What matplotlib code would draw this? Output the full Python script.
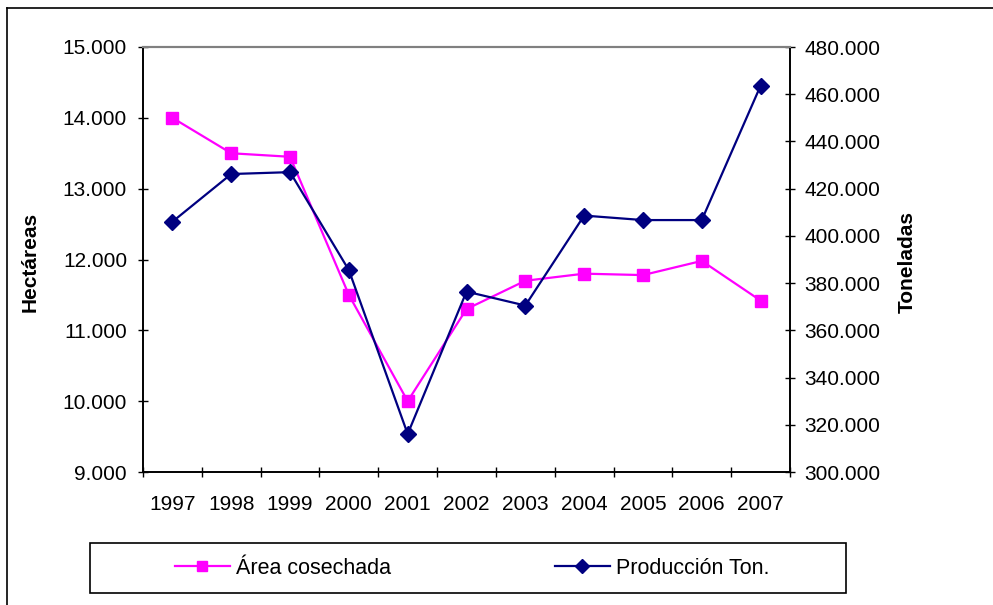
import numpy as np
import matplotlib
matplotlib.use("Agg")
from matplotlib import pyplot as plt
from matplotlib.ticker import FuncFormatter, FixedLocator
from matplotlib.lines import Line2D
from matplotlib.patches import Rectangle

plt.rcParams['font.family'] = ['Liberation Sans', 'DejaVu Sans']

# data
years = ['1997', '1998', '1999', '2000', '2001', '2002', '2003', '2004', '2005', '2006', '2007']
area = [14000, 13500, 13450, 11500, 10000, 11300, 11700, 11800, 11780, 11980, 11420]
produccion = [406000, 426200, 427000, 385500, 316100, 376400, 370500, 408600, 406700, 406700, 463600]

pink = '#FF00FF'
navy = '#000080'
fs = 15

def miles(v, pos):
    return '{:,.0f}'.format(v).replace(',', '.')

fig = plt.figure(figsize=(9.93, 6.05), dpi=100)
ax = fig.add_axes([143/993, 1-472/605, 647/993, 425/605])
ax2 = ax.twinx()

x = np.arange(len(years))
ax.plot(x, area, '-', color=pink, lw=1.6, marker='s', ms=8.5, mec=pink, mfc=pink, label='Área cosechada')
ax2.plot(x, produccion, '-', color=navy, lw=1.6, marker='D', ms=8, mec=navy, mfc=navy, label='Producción Ton.')

ax.set_xlim(-0.5, len(years)-0.5)
ax.set_ylim(9000, 15000)
ax2.set_ylim(300000, 480000)
ax.set_yticks(np.arange(9000, 15001, 1000))
ax2.set_yticks(np.arange(300000, 480001, 20000))
ax.yaxis.set_major_formatter(FuncFormatter(miles))
ax2.yaxis.set_major_formatter(FuncFormatter(miles))

# category ticks between years, labels centred
ax.xaxis.set_major_locator(FixedLocator(np.arange(-0.5, len(years), 1.0)))
ax.xaxis.set_major_formatter(FuncFormatter(lambda v, p: ''))
ax.xaxis.set_minor_locator(FixedLocator(x))
ax.set_xticklabels(years, minor=True)
ax.tick_params(axis='x', which='major', direction='inout', length=7, width=1)
ax.tick_params(axis='x', which='minor', length=0, pad=16.5, labelsize=fs)
ax.tick_params(axis='y', direction='inout', length=7, width=1, pad=8, labelsize=fs)
ax2.tick_params(axis='y', direction='inout', length=7, width=1, pad=7, labelsize=fs)

for a in (ax, ax2):
    a.spines['top'].set_color('#808080')
    a.spines['top'].set_linewidth(1.5)
    a.spines['left'].set_linewidth(1.2)
    a.spines['bottom'].set_linewidth(1.2)
    a.spines['right'].set_linewidth(1.2)

ax.set_ylabel('Hectáreas', fontsize=fs, fontweight='bold')
ax.yaxis.set_label_coords(-0.1592, 0.494)
ax2.set_ylabel('Toneladas', fontsize=fs, fontweight='bold')
ax2.yaxis.set_label_coords(1.1669, 0.494)

# legend
h1, l1 = ax.get_legend_handles_labels()
h2, l2 = ax2.get_legend_handles_labels()
fig.legend(h1+h2, l1+l2, loc='center', bbox_to_anchor=(472/993, 1-568/605), ncol=2,
           frameon=False, fontsize=15.5, handlelength=2.56, handletextpad=0.28,
           columnspacing=7.6, markerscale=0.85)
fig.patches.append(Rectangle((90/993, 1-593/605), 756/993, 50/605, transform=fig.transFigure,
                             fill=False, edgecolor='black', lw=1.2))

# outer chart border (left and top only visible)
fig.lines.append(Line2D([7/993, 7/993], [0, 1-8/605], transform=fig.transFigure, color='black', lw=1.2))
fig.lines.append(Line2D([7/993, 1], [1-8/605, 1-8/605], transform=fig.transFigure, color='black', lw=1.2))

fig.savefig('out.png', dpi=100)
